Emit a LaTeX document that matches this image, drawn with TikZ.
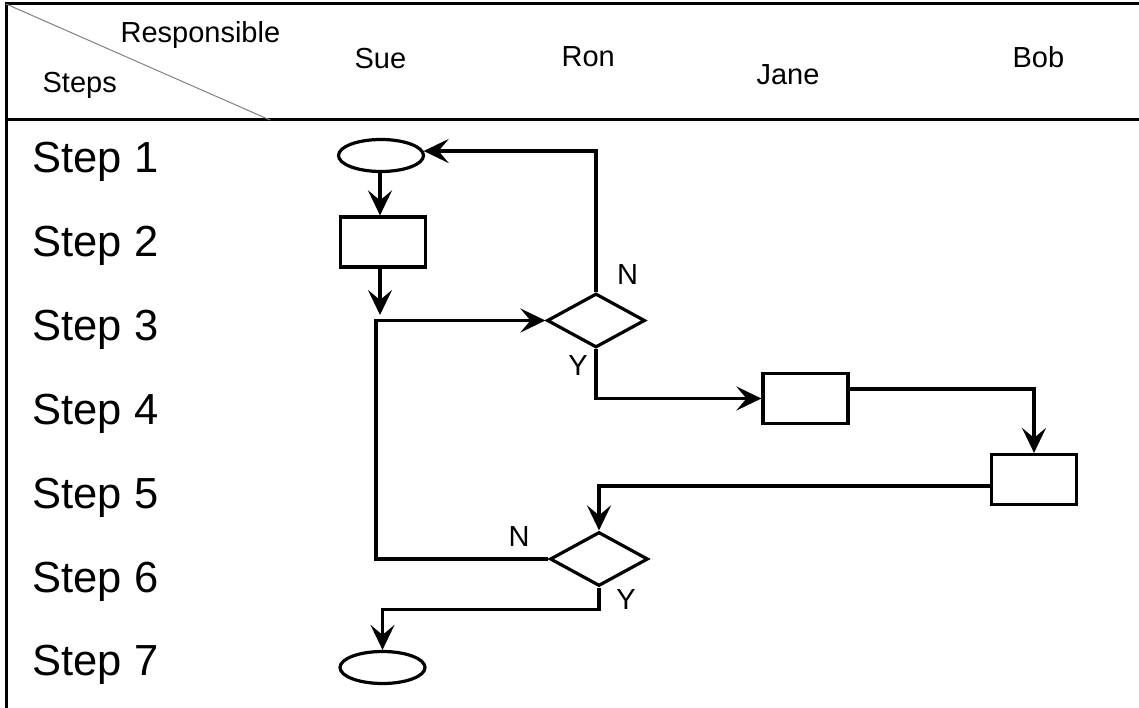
\documentclass[tikz,border=0pt]{standalone}
\usepackage{fontspec}
\setmainfont{Liberation Sans}
\usetikzlibrary{shapes.geometric,arrows.meta}
\begin{document}
\begin{tikzpicture}[x=1pt,y=-1pt,
  line width=3.2pt,
  flow/.style={-{Stealth[length=25pt,width=24pt,inset=10pt]}},
  term/.style={ellipse,draw,inner sep=0pt,minimum width=85pt,minimum height=32pt},
  proc/.style={rectangle,draw,inner sep=0pt,minimum width=85pt,minimum height=50pt},
  dec/.style={diamond,draw,inner sep=0pt,minimum width=98pt,minimum height=54pt},
  hdr/.style={anchor=base west,inner sep=0pt,font=\fontsize{29}{31}\selectfont},
  steplabel/.style={anchor=base west,inner sep=0pt,font=\fontsize{43.5}{46}\selectfont},
  yn/.style={inner sep=0pt,font=\fontsize{29}{31}\selectfont},
  frame/.style={line width=3pt,black},
  diag/.style={line width=1pt,gray}]
\useasboundingbox (0,0) rectangle (1139,708);

% table frame
\coordinate (tl) at (6,4);
\coordinate (tr) at (1139,4);
\coordinate (bl) at (6,708);
\coordinate (hl) at (6,120);
\coordinate (hr) at (1139,120);
\coordinate (dg) at (270,120);
\draw[frame] (tr) -- (tl) -- (bl);
\draw[frame] (hl) -- (hr);
\draw[diag] (tl) -- (dg);

% header texts
\node[hdr] (resp) at (119,43) {Responsible};
\node[hdr] (steps) at (41,93) {Steps};
\node[hdr] (sue) at (353,69) {Sue};
\node[hdr] (ron) at (560,67) {Ron};
\node[hdr] (jane) at (755,85) {Jane};
\node[hdr] (bob) at (1011,68) {Bob};

% step labels
\node[steplabel] (s1) at (31,173) {Step 1};
\node[steplabel] (s2) at (31,257) {Step 2};
\node[steplabel] (s3) at (31,340) {Step 3};
\node[steplabel] (s4) at (31,424) {Step 4};
\node[steplabel] (s5) at (31,508) {Step 5};
\node[steplabel] (s6) at (31,592) {Step 6};
\node[steplabel] (s7) at (31,675) {Step 7};

% shapes
\node[term] (e1) at (381,155.5) {};
\node[proc] (r1) at (383,242) {};
\node[dec] (d1) at (596,320.5) {};
\node[proc] (r2) at (805.5,398.5) {};
\node[proc] (r3) at (1034,479.5) {};
\node[dec] (d2) at (599,559) {};
\node[term] (e2) at (382.5,667.5) {};

% helper coordinates
\coordinate (c1) at (380,315);
\coordinate (k1) at (376,559);

% connectors
\draw[flow] (e1.south -| 380,0) -- (380,0 |- r1.north);
\draw[flow] (r1.south -| c1) -- (c1);
\draw[flow] (d2.west) -- (k1) |- (d1.west);
\draw[flow] (d1.north) |- (e1.6);
\draw[flow] (d1.south) |- (r2.west);
\draw[flow] ([yshift=9.5pt]r2.east) -| (r3.north);
\draw[flow] ([yshift=-6.5pt]r3.west) -| (d2.north);
\draw[flow] (d2.south) -- ++(0,22) -| (e2.north);

% branch labels
\node[yn] (n1) at (627.5,274.5) {N};
\node[yn] (y1) at (578,366) {Y};
\node[yn] (n2) at (519,537) {N};
\node[yn] (y2) at (626,600) {Y};
\end{tikzpicture}
\end{document}
